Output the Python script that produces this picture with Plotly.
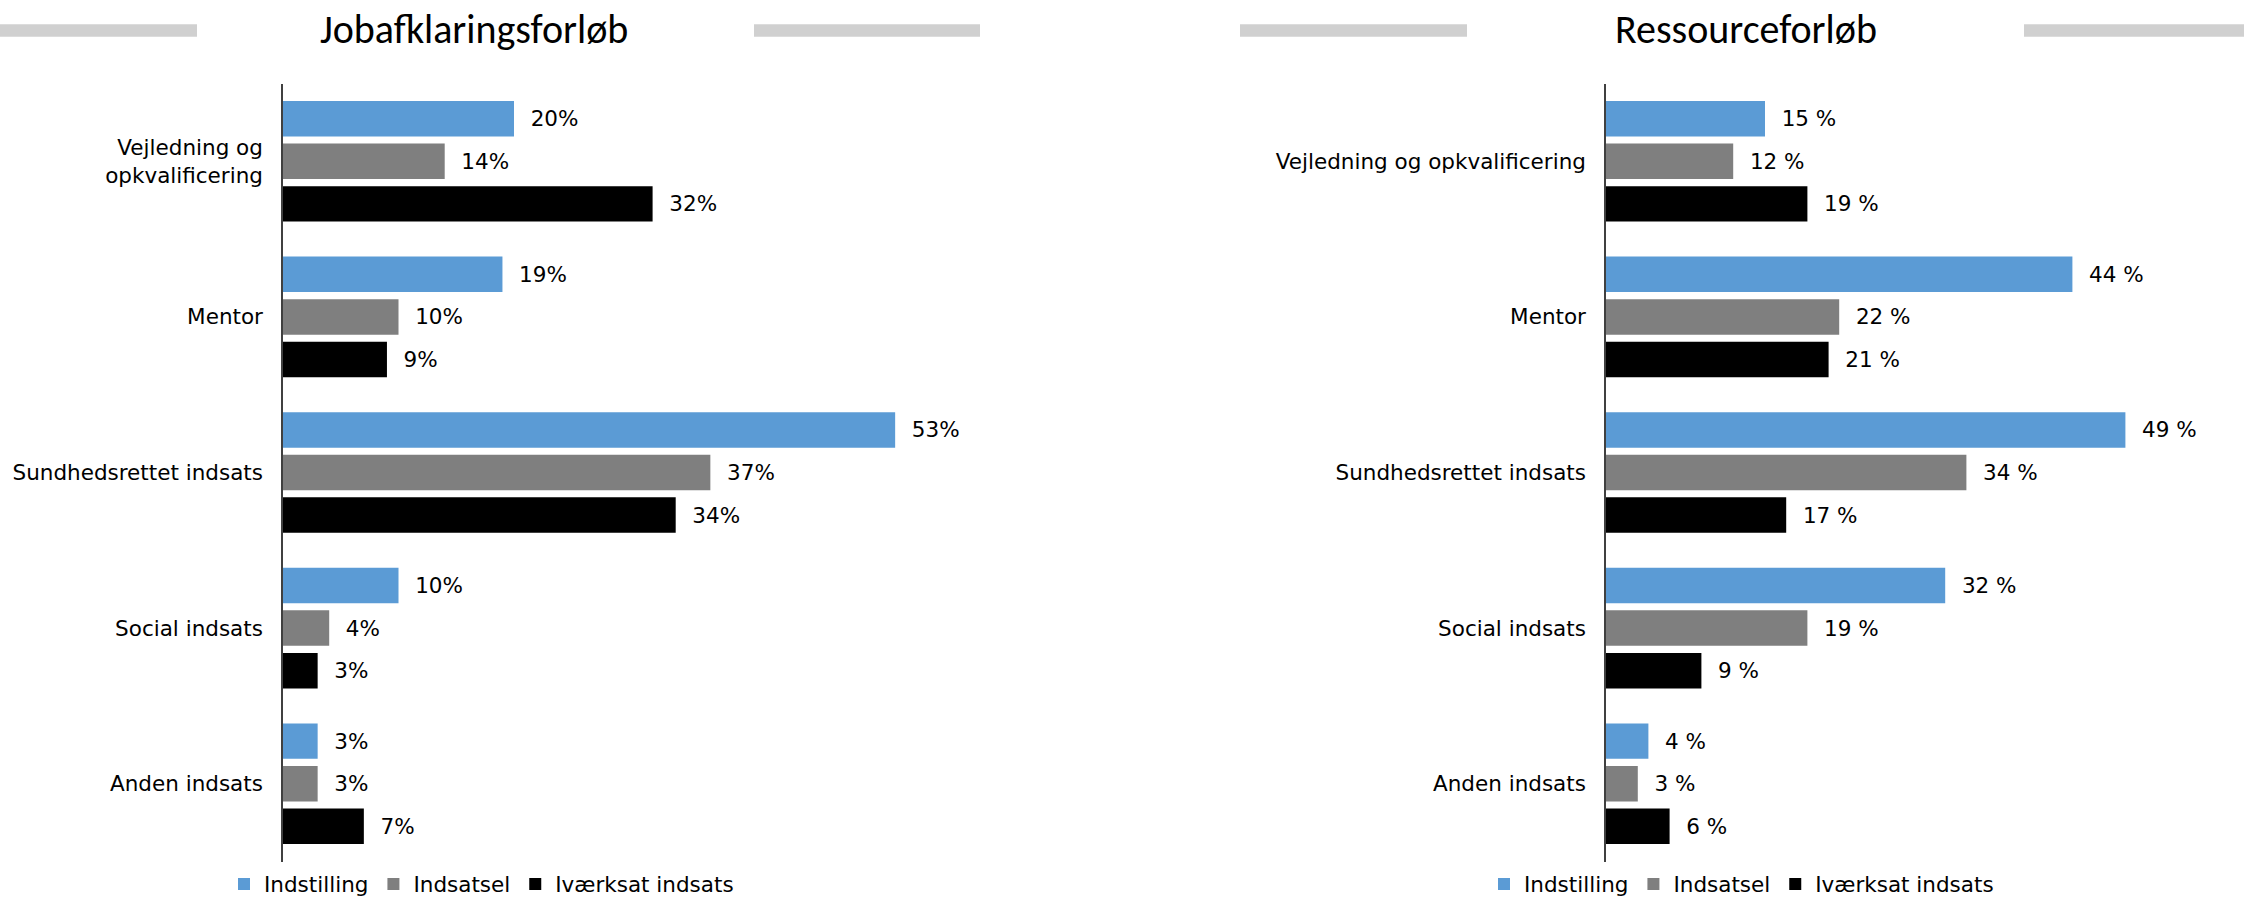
import plotly.graph_objects as go

# Categories (top to bottom) for each panel
categories_job = ["Vejledning og<br>opkvalificering", "Mentor", "Sundhedsrettet indsats",
                  "Social indsats", "Anden indsats"]
categories_res = ["Vejledning og opkvalificering", "Mentor", "Sundhedsrettet indsats",
                  "Social indsats", "Anden indsats"]

series_names = ["Indstilling", "Indsatsel", "Iværksat indsats"]

# Jobafklaringsforløb (%)
job_indstilling = [20, 19, 53, 10, 3]
job_indsatsel = [14, 10, 37, 4, 3]
job_iverksat = [32, 9, 34, 3, 7]

# Ressourceforløb (%)
res_indstilling = [15, 44, 49, 32, 4]
res_indsatsel = [12, 22, 34, 19, 3]
res_iverksat = [19, 21, 17, 9, 6]

panel_titles = ["Jobafklaringsforløb", "Ressourceforløb"]

colors = ["#5B9BD5", "#7F7F7F", "#000000"]
LABEL_FONT = dict(family="DejaVu Sans, Verdana, sans-serif", size=21.5, color="#000000")
NBSP = "\u00a0"

fig = go.Figure()

job_series = [job_indstilling, job_indsatsel, job_iverksat]
res_series = [res_indstilling, res_indsatsel, res_iverksat]

for name, vals, col in zip(series_names, job_series, colors):
    fig.add_trace(go.Bar(
        name=name, y=categories_job, x=vals, orientation="h",
        marker=dict(color=col, line=dict(width=0)),
        texttemplate=NBSP * 2 + "%{x}%", textposition="outside",
        textfont=LABEL_FONT, constraintext="none", cliponaxis=False,
        xaxis="x", yaxis="y", legend="legend", hoverinfo="skip",
    ))

for name, vals, col in zip(series_names, res_series, colors):
    fig.add_trace(go.Bar(
        name=name, y=categories_res, x=vals, orientation="h",
        marker=dict(color=col, line=dict(width=0)),
        texttemplate=NBSP * 2 + "%{x} %", textposition="outside",
        textfont=LABEL_FONT, constraintext="none", cliponaxis=False,
        xaxis="x2", yaxis="y2", legend="legend2", hoverinfo="skip",
    ))

W, H = 2244, 900
plot_top, plot_bottom = 83.5, 861.5
ydom = [1 - plot_bottom / H, 1 - plot_top / H]

xaxis_common = dict(range=[0, 60], visible=False, showgrid=False, zeroline=False, fixedrange=True)
yaxis_common = dict(
    domain=ydom, autorange="reversed", showgrid=False, zeroline=False,
    showline=True, linecolor="#404040", linewidth=1.5,
    ticks="", ticklabelstandoff=14, tickfont=LABEL_FONT,
)

legend_common = dict(
    orientation="h", yanchor="middle", y=1 - 884 / H, xanchor="left",
    font=LABEL_FONT, bgcolor="rgba(0,0,0,0)", itemwidth=30, traceorder="normal",
    itemclick=False, itemdoubleclick=False,
)

# Decorative grey rules flanking each title
rules = [(0, 197), (754, 980), (1240, 1467), (2024, 2244)]
shapes = [
    dict(type="rect", xref="paper", yref="paper",
         x0=a / W, x1=b / W, y0=1 - 36.7 / H, y1=1 - 24.3 / H,
         fillcolor="#D0D0D0", line=dict(width=0), layer="below")
    for a, b in rules
]

title_centers = [474, 1745.5]
annotations = [
    dict(text=t, xref="paper", yref="paper", x=cx / W, y=1 - 29 / H,
         xanchor="center", yanchor="middle", showarrow=False,
         font=dict(family="Calibri, Carlito, Lato, sans-serif", size=40, color="#000000"))
    for t, cx in zip(panel_titles, title_centers)
]

fig.update_layout(
    width=W, height=H, autosize=False,
    margin=dict(l=0, r=0, t=0, b=0, autoexpand=False),
    paper_bgcolor="white", plot_bgcolor="white",
    barmode="group", bargap=0.179, bargroupgap=0.167,
    xaxis=dict(domain=[283 / W, (283 + 60 * 11.55) / W], anchor="y", **xaxis_common),
    xaxis2=dict(domain=[1606 / W, (1606 + 60 * 10.6) / W], anchor="y2", **xaxis_common),
    yaxis=dict(anchor="x", **yaxis_common),
    yaxis2=dict(anchor="x2", **yaxis_common),
    legend=dict(x=224 / W, **legend_common),
    legend2=dict(x=1484 / W, **legend_common),
    shapes=shapes,
    annotations=annotations,
    showlegend=True,
)

fig.write_html("out.html")
